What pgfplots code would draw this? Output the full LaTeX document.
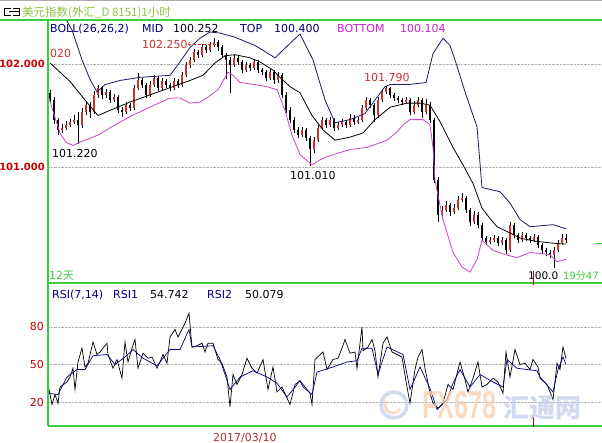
\documentclass[border=0pt]{standalone}
\usepackage{fontspec}
\setmainfont{DejaVu Sans}
\newfontfamily\cjk{Noto Sans CJK SC}
\newfontfamily\wm{Liberation Sans}
\usepackage{pgfplots}
\usepackage{pgfplotstable}
\pgfplotsset{compat=1.18}

\definecolor{gline}{HTML}{3FCC3F}
\definecolor{titleg}{HTML}{8CC63F}
\definecolor{labred}{HTML}{CC0000}
\definecolor{hired}{HTML}{CC3333}
\definecolor{navy}{HTML}{000080}
\definecolor{topc}{HTML}{1A1A66}
\definecolor{botc}{HTML}{CC44CC}
\definecolor{magt}{HTML}{CC22CC}
\definecolor{upred}{HTML}{D03030}
\definecolor{datered}{HTML}{B03030}
\definecolor{wmor}{HTML}{F6CFAE}
\definecolor{wmbl}{HTML}{C3CEEA}

\newcommand\fs[1]{\fontsize{#1bp}{#1bp}\selectfont}

% hourly candles: index, open, high, low, close
\pgfplotstableread{
i o h l c
0 101.72 101.75 101.62 101.65
1 101.65 101.68 101.42 101.46
2 101.46 101.48 101.31 101.36
3 101.36 101.42 101.33 101.38
4 101.38 101.45 101.36 101.41
5 101.41 101.47 101.39 101.44
6 101.44 101.50 101.42 101.46
7 101.46 101.53 101.22 101.41
8 101.41 101.57 101.38 101.53
9 101.53 101.64 101.50 101.60
10 101.60 101.63 101.48 101.53
11 101.53 101.74 101.51 101.70
12 101.70 101.80 101.67 101.77
13 101.77 101.79 101.66 101.70
14 101.70 101.76 101.67 101.73
15 101.73 101.75 101.62 101.65
16 101.65 101.71 101.63 101.68
17 101.68 101.70 101.52 101.55
18 101.55 101.58 101.49 101.53
19 101.53 101.63 101.51 101.60
20 101.60 101.62 101.54 101.57
21 101.57 101.80 101.55 101.77
22 101.77 101.91 101.75 101.84
23 101.84 101.86 101.77 101.80
24 101.80 101.82 101.67 101.70
25 101.70 101.83 101.68 101.80
26 101.80 101.89 101.78 101.86
27 101.86 101.88 101.74 101.77
28 101.77 101.86 101.75 101.83
29 101.83 101.85 101.77 101.80
30 101.80 101.82 101.74 101.77
31 101.77 101.86 101.75 101.83
32 101.83 101.85 101.77 101.80
33 101.80 101.92 101.78 101.89
34 101.89 102.02 101.87 101.99
35 101.99 102.07 101.96 102.04
36 102.04 102.15 102.02 102.12
37 102.12 102.14 102.06 102.09
38 102.09 102.19 102.07 102.16
39 102.16 102.18 102.11 102.14
40 102.14 102.21 102.12 102.18
41 102.18 102.25 102.16 102.21
42 102.21 102.23 102.13 102.16
43 102.16 102.18 102.06 102.09
44 102.09 102.11 101.85 102.04
45 102.04 102.07 101.72 101.99
46 101.99 102.09 101.97 102.06
47 102.06 102.08 101.99 102.02
48 102.02 102.04 101.91 101.94
49 101.94 102.02 101.92 101.99
50 101.99 102.01 101.93 101.96
51 101.96 102.05 101.94 102.02
52 102.02 102.04 101.91 101.94
53 101.94 101.96 101.89 101.92
54 101.92 101.94 101.83 101.86
55 101.86 101.95 101.84 101.92
56 101.92 101.94 101.81 101.84
57 101.84 101.92 101.82 101.89
58 101.89 101.91 101.67 101.70
59 101.70 101.73 101.52 101.55
60 101.55 101.58 101.43 101.46
61 101.46 101.49 101.33 101.36
62 101.36 101.39 101.28 101.31
63 101.31 101.39 101.29 101.36
64 101.36 101.38 101.25 101.28
65 101.28 101.30 101.01 101.17
66 101.17 101.29 101.14 101.26
67 101.26 101.41 101.24 101.38
68 101.38 101.49 101.36 101.46
69 101.46 101.48 101.38 101.41
70 101.41 101.49 101.39 101.46
71 101.46 101.48 101.35 101.38
72 101.38 101.44 101.36 101.41
73 101.41 101.47 101.39 101.44
74 101.44 101.46 101.38 101.41
75 101.41 101.51 101.39 101.48
76 101.48 101.50 101.41 101.44
77 101.44 101.49 101.42 101.46
78 101.46 101.60 101.44 101.57
79 101.57 101.68 101.55 101.65
80 101.65 101.67 101.57 101.60
81 101.60 101.62 101.44 101.50
82 101.50 101.68 101.48 101.65
83 101.65 101.76 101.63 101.73
84 101.73 101.79 101.71 101.77
85 101.77 101.78 101.67 101.70
86 101.70 101.72 101.64 101.67
87 101.67 101.69 101.62 101.65
88 101.65 101.67 101.60 101.63
89 101.63 101.68 101.61 101.65
90 101.65 101.67 101.50 101.53
91 101.53 101.64 101.51 101.60
92 101.60 101.68 101.58 101.65
93 101.65 101.67 101.48 101.53
94 101.53 101.66 101.51 101.60
95 101.60 101.63 101.43 101.46
96 101.46 101.48 100.84 100.87
97 100.87 100.90 100.47 100.53
98 100.53 100.62 100.50 100.58
99 100.58 100.67 100.56 100.63
100 100.63 100.65 100.52 100.56
101 100.56 100.64 100.54 100.60
102 100.60 100.72 100.58 100.68
103 100.68 100.75 100.66 100.70
104 100.70 100.72 100.55 100.58
105 100.58 100.60 100.43 100.47
106 100.47 100.57 100.45 100.53
107 100.53 100.56 100.41 100.44
108 100.44 100.46 100.28 100.31
109 100.31 100.33 100.24 100.27
110 100.27 100.32 100.25 100.29
111 100.29 100.34 100.27 100.31
112 100.31 100.33 100.23 100.26
113 100.26 100.32 100.24 100.29
114 100.29 100.31 100.16 100.19
115 100.19 100.47 100.17 100.44
116 100.44 100.46 100.31 100.34
117 100.34 100.36 100.26 100.29
118 100.29 100.37 100.27 100.34
119 100.34 100.36 100.28 100.31
120 100.31 100.33 100.26 100.29
121 100.29 100.35 100.27 100.32
122 100.32 100.34 100.21 100.24
123 100.24 100.26 100.16 100.19
124 100.19 100.21 100.14 100.17
125 100.17 100.19 100.12 100.15
126 100.15 100.22 100.02 100.19
127 100.19 100.29 100.17 100.26
128 100.26 100.35 100.24 100.31
129 100.31 100.35 100.26 100.29
}\candles

\begin{document}
\begin{tikzpicture}[x=1bp,y=1bp]
\useasboundingbox (0,0) rectangle (602,443);
\fill[white] (0,0) rectangle (602,443);

% ---------- price panel ----------
\begin{axis}[
    scale only axis,
    width=554bp, height=263bp,
    at={(48bp,160bp)}, anchor=south west,
    xmin=-0.5, xmax=138,
    ymin=99.874, ymax=102.427,
    axis line style={draw=none},
    major tick length=0pt,
    xtick=\empty,
    ytick={101,102},
    yticklabels={101.000,102.000},
    yticklabel style={font=\bfseries\fs{10}, text=labred, inner sep=0pt, xshift=-3bp},
    ymajorgrids,
    grid style={gray!60, densely dotted},
    clip=true,
]
% wicks
\addplot[draw=none, mark=none, forget plot,
    error bars/.cd, y dir=plus, y explicit, error mark=none,
    error bar style={draw=black, line width=0.7bp}]
    table[x=i, y=l, y error plus expr={\thisrow{h}-\thisrow{l}}] {\candles};
% rising bodies
\addplot[draw=none, mark=none, forget plot,
    error bars/.cd, y dir=plus, y explicit, error mark=none,
    error bar style={draw=upred, line width=1.5bp}]
    table[x=i, y expr={\thisrow{c}>\thisrow{o} ? \thisrow{o} : nan},
          y error plus expr={\thisrow{c}-\thisrow{o}}] {\candles};
% falling bodies
\addplot[draw=none, mark=none, forget plot,
    error bars/.cd, y dir=plus, y explicit, error mark=none,
    error bar style={draw=black, line width=1.5bp}]
    table[x=i, y expr={\thisrow{c}>\thisrow{o} ? nan : \thisrow{c}},
          y error plus expr={\thisrow{o}-\thisrow{c}}] {\candles};

% BOLL top
\addplot[topc, line width=0.8bp, mark=none] table {
x y
-0.5 102.75
2 102.62
3.75 102.45
5.5 102.33
8 102.04
10 101.85
11.75 101.73
13.75 101.80
17.5 101.84
22.5 101.87
30 101.89
32.5 102.02
35 102.16
37.5 102.25
40 102.31
42.5 102.30
46.25 102.26
51.25 102.18
56.25 102.06
60 102.20
62.5 102.29
65.75 102.04
68.75 101.65
71.25 101.43
75 101.46
78.75 101.52
83.75 101.78
85 101.80
89.5 101.80
94 101.82
95.75 102.10
98.25 102.25
100 102.18
101.25 102.04
104 101.70
106.75 101.39
108 100.80
112.5 100.76
115 100.65
117.5 100.49
120 100.42
125.75 100.44
129 100.40
};
% BOLL mid
\addplot[black, line width=0.8bp, mark=none] table {
x y
0 102.01
5 101.83
8.75 101.65
12 101.50
15 101.55
20 101.63
25 101.70
30 101.77
35 101.84
38.25 101.89
41.25 102.01
43.75 102.08
46.25 102.09
50 102.06
52.5 102.02
55.75 101.94
57.5 101.87
60 101.78
62.5 101.72
65.5 101.50
68.25 101.36
71.25 101.26
75 101.29
78.25 101.33
81.25 101.46
85 101.58
89.25 101.62
92.5 101.62
95 101.60
97.5 101.44
100.75 101.19
103.25 101.02
105.75 100.84
108 100.60
110 100.50
111.75 100.42
115 100.36
117.5 100.31
121.25 100.28
125.75 100.26
129 100.252
};
% BOLL bottom
\addplot[botc, line width=0.8bp, mark=none] table {
x y
-0.5 101.70
1.25 101.48
2.5 101.33
4 101.24
5.75 101.21
8.75 101.26
12 101.31
15 101.38
20 101.49
25 101.58
30 101.67
32.5 101.67
35 101.62
37.5 101.63
39.25 101.67
42 101.75
44.5 101.92
45.75 101.89
47.5 101.82
51.25 101.80
54.25 101.78
56.75 101.75
58.75 101.55
60.5 101.31
62.5 101.12
65.5 101.02
67.5 101.07
69.25 101.10
72.5 101.14
75 101.17
79.25 101.19
84.25 101.26
86.75 101.34
88.25 101.41
90 101.46
93.25 101.46
95 101.41
95.75 101.19
96.25 100.87
97.5 100.63
98.25 100.49
100.75 100.17
103 100.03
105 99.98
106.75 100.10
108 100.29
110.75 100.19
113.75 100.15
116.75 100.12
120 100.17
122.5 100.16
125 100.15
126.75 100.08
129 100.104
};
\end{axis}

% ---------- RSI panel ----------
\begin{axis}[
    scale only axis,
    width=554bp, height=143bp,
    at={(48bp,17bp)}, anchor=south west,
    xmin=-0.5, xmax=138,
    ymin=0.8, ymax=115.2,
    axis line style={draw=none},
    major tick length=0pt,
    xtick=\empty,
    ytick={20,50,80},
    yticklabels={20,50,80},
    yticklabel style={font=\fs{11}, text=labred, inner sep=0pt, xshift=-4bp},
    ymajorgrids,
    grid style={gray!60, densely dotted},
    clip=true,
]
% RSI1 (7)
\addplot[black, line width=0.7bp, mark=none] table {
x y
-0.5 34
0.5 18
1.25 26
2 19
2.5 32
4.25 36
5 40
5.75 47
6.25 30
7 52
8 63
8.75 48
9.5 51
10.75 68
11.75 58
12.5 60
14.25 67
14.5 58
15.75 47
16.75 54
18 39
18.75 68
19.5 52
20.5 63
21.25 70
22 47
23.25 59
24.5 55
25.5 56
26.75 47
27.5 52
28.25 58
29.25 51
30 72
31.25 78
32 72
33.75 83
34.75 91
35.5 64
36.75 65
38 67
38.75 60
39.5 67
40.75 67
42 54
43 51
44.25 40
45 16
45.75 42
46.75 34
48 42
49.25 55
50.5 47
51.75 43
53.25 54
54.5 30
55.75 48
56.75 28
58 32
60 18
61.25 34
62.5 37
65 27
65.5 18
66.25 54
68.25 60
69.25 46
70.75 54
72 55
73 63
73.75 70
75 59
76.25 60
76.75 47
78 80
78.25 61
79.5 64
80.5 70
81.25 61
82 40
83.25 67
84.25 72
85.5 60
86.75 58
88 56
89.25 32
90 19
91.25 46
92 56
93 62
93.75 47
95 27
95.75 19
97 15
98.25 19
99.5 34
100.75 30
102.5 52
103.75 38
104.5 28
105.75 39
107 52
108 32
109.25 34
110.75 39
112 36
113.25 27
114 60
115 40
116.25 62
117.5 50
118.75 51
120 46
120.75 54
122 48
122.5 39
124.25 34
125.75 22
126.75 51
127.5 46
128.25 64
129 54.742
};
% RSI2 (14)
\addplot[navy, line width=0.7bp, mark=none] table {
x y
-0.5 27
2 26
4.25 40
6.75 46
8.75 46
10.75 57
14.25 58
16.25 50
18.75 56
20.75 62
23.25 55
26.75 49
30 62
32.5 62
34.75 78
35.5 64
40.75 65
42.5 54
45 30
47.5 40
50.75 45
54.25 40
56.75 35
59.25 24
62.5 37
63.25 32
65.5 26
66.75 44
70.75 48
74.25 52
76.75 53
78 63
80.5 63
82 42
84.25 64
88.25 58
90 30
92.5 48
95 31
96.75 14
99.25 22
100.75 35
102.5 46
105 32
107.5 42
110.75 36
113.25 32
114.25 54
116.75 47
119.25 46
121.75 45
122.5 40
125.75 28
127 46
128.25 56
129 50.079
};
\end{axis}

% ---------- frame ----------
\draw[gray!65, line width=1.5bp] (0,442.3) -- (602,442.3);
\draw[gline, line width=1.1bp] (0,423) -- (602,423);
\draw[gline, line width=1.1bp] (48,423) -- (48,17);
\draw[gline, line width=1.1bp] (48,160) -- (602,160);
\draw[gline, line width=1.1bp] (48,17) -- (602,17);
\draw[labred, line width=0.8bp] (533,172) -- (533,158);
\draw[labred, line width=0.8bp] (533,26) -- (533,16);
\draw[gline, line width=0.8bp] (595,200) -- (602,200);

% title icon and title
\draw[black, line width=0.8bp] (11,435) -- (4,435) -- (4,428) -- (11,428);
\draw[black, line width=0.8bp] (9,431.5) -- (19,431.5) (13,435) -- (19,435) -- (19,428) -- (13,428);
\node[anchor=base west, inner sep=0pt, text=titleg] at (22,426)
    {\cjk\fs{11.5}美元指数(外汇\_D 8151)1小时};

% BOLL legend line
\node[anchor=base west, inner sep=0pt, text=navy] at (50,410) {\fs{11}BOLL(26,26,2)};
\node[anchor=base west, inner sep=0pt, text=navy] at (142,410) {\fs{11}MID};
\node[anchor=base west, inner sep=0pt, text=black!85!navy] at (173,410) {\fs{11}100.252};
\node[anchor=base west, inner sep=0pt, text=navy] at (240,410) {\fs{11}TOP};
\node[anchor=base west, inner sep=0pt, text=navy] at (274,410) {\fs{11}100.400};
\node[anchor=base west, inner sep=0pt, text=magt] at (337,410) {\fs{11}BOTTOM};
\node[anchor=base west, inner sep=0pt, text=magt] at (400,410) {\fs{11}100.104};

% extreme labels
\node[anchor=base west, inner sep=0pt, text=hired] at (142,394) {\fs{11}102.250};
\draw[hired, densely dashed, line width=0.7bp, ->] (216,399) -- (188,399);
\node[anchor=base west, inner sep=0pt, text=hired] at (50,385) {\fs{11}020};
\node[anchor=base west, inner sep=0pt, text=black] at (52,285) {\fs{11}101.220};
\node[anchor=base west, inner sep=0pt, text=black] at (290,263) {\fs{11}101.010};
\node[anchor=base west, inner sep=0pt, text=hired] at (364,361) {\fs{11}101.790};
\node[anchor=base west, inner sep=0pt, text=gline] at (49,163) {\fs{11}12\cjk 天};
\node[anchor=base west, inner sep=0pt, text=black] at (528,163) {\fs{10.5}100.0};
\node[anchor=base west, inner sep=0pt, text=gline] at (563,163) {\fs{10}19\cjk 分\rmfamily 47};

% RSI legend line
\node[anchor=base west, inner sep=0pt, text=navy] at (52,144) {\fs{11}RSI(7,14)};
\node[anchor=base west, inner sep=0pt, text=navy] at (113,144) {\fs{11}RSI1};
\node[anchor=base west, inner sep=0pt, text=black!85!navy] at (150,144) {\fs{11}54.742};
\node[anchor=base west, inner sep=0pt, text=navy] at (207,144) {\fs{11}RSI2};
\node[anchor=base west, inner sep=0pt, text=black!85!navy] at (245,144) {\fs{11}50.079};

% date
\node[anchor=base west, inner sep=0pt, text=datered] at (213,1.5) {\fs{11}2017/03/10};

% watermark
\begin{scope}[opacity=0.75]
\draw[wmbl, line width=3.5bp] (394,38) circle (13);
\draw[wmor, line width=3bp] (386,42) arc (150:330:8);
\node[anchor=base west, inner sep=0pt, text=wmor, xscale=0.65] at (422,24) {\wm\bfseries\fs{39}FX678};
\node[anchor=base west, inner sep=0pt, text=wmbl] at (503,25) {\cjk\bfseries\fs{26}汇通网};
\end{scope}
\end{tikzpicture}
\end{document}
